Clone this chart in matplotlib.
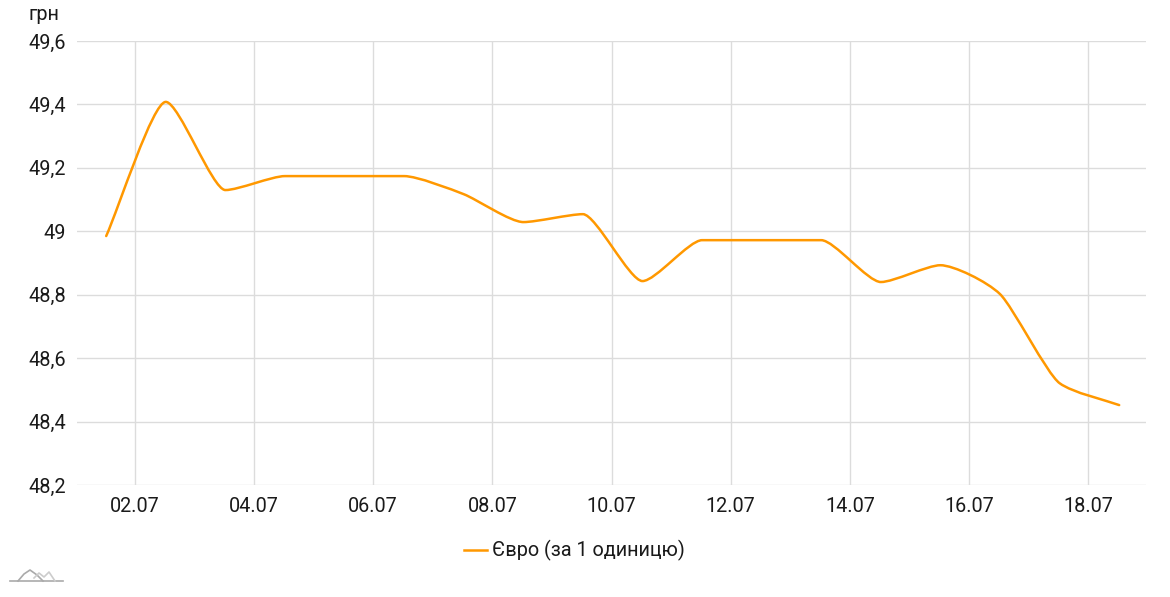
import matplotlib
matplotlib.use("Agg")
import matplotlib.pyplot as plt
import numpy as np
from matplotlib.path import Path
from matplotlib.patches import PathPatch
from matplotlib.lines import Line2D

plt.rcParams['font.family'] = ['Roboto', 'DejaVu Sans']

# data
days = [1, 2, 3, 4, 5, 6, 7, 8, 9, 10, 11, 12, 13, 14, 15, 16, 17, 18]
euro = [48.985, 49.408, 49.13, 49.174, 49.174, 49.174, 49.117, 49.029, 49.054,
        48.843, 48.972, 48.972, 48.972, 48.84, 48.893, 48.802, 48.521, 48.452]
tick_days = [2, 4, 6, 8, 10, 12, 14, 16, 18]
tick_labels = ["02.07", "04.07", "06.07", "08.07", "10.07", "12.07", "14.07", "16.07", "18.07"]
y_ticks = [48.2, 48.4, 48.6, 48.8, 49.0, 49.2, 49.4, 49.6]
y_labels = ["48,2", "48,4", "48,6", "48,8", "49", "49,2", "49,4", "49,6"]
series_name = "Євро (за 1 одиницю)"
unit = "грн"

W, H = 1170, 597
FS = 14.3
TXT = "#1a1a1a"
fig = plt.figure(figsize=(W/100, H/100), dpi=100)
ax = fig.add_axes([77/W, 1-485/H, (1146-77)/W, (485-41)/H])

color = "#FF9800"
xs = np.array(days, dtype=float) + 0.52
ys = np.array(euro, dtype=float)

# monotone tangents with short bezier handles (smooth rendering only)
n = len(xs)
h = np.diff(xs)
s = np.diff(ys) / h
m = np.zeros(n)
for i in range(1, n-1):
    s0, s1 = s[i-1], s[i]
    p = (s0*h[i] + s1*h[i-1]) / (h[i-1] + h[i])
    m[i] = (np.sign(s0) + np.sign(s1)) * min(abs(s0), abs(s1), 0.5*abs(p))
m[0] = s[0]
m[-1] = s[-1]
k = 0.22
verts = [(xs[0], ys[0])]
codes = [Path.MOVETO]
for i in range(n-1):
    d = h[i] * k
    verts += [(xs[i]+d, ys[i]+m[i]*d), (xs[i+1]-d, ys[i+1]-m[i+1]*d), (xs[i+1], ys[i+1])]
    codes += [Path.CURVE4]*3
ax.add_patch(PathPatch(Path(verts, codes), facecolor='none', edgecolor=color, lw=1.8,
                       capstyle='round', joinstyle='round', zorder=3))

ax.set_xlim(1.03, 18.97)
ax.set_ylim(48.2, 49.6)
ax.set_xticks(tick_days)
ax.set_xticklabels(tick_labels)
ax.set_yticks(y_ticks)
ax.set_yticklabels(y_labels)
ax.grid(True, color="#dcdcdc", lw=1)
ax.set_axisbelow(True)
for sp in ax.spines.values():
    sp.set_visible(False)
ax.tick_params(length=0, labelsize=FS, colors=TXT)
ax.tick_params(axis='y', pad=8)
ax.tick_params(axis='x', pad=8.5)

fig.text(29/W, 1-14/H, unit, fontsize=FS, color=TXT, va='center', ha='left')

# legend
leg_y = 1-550/H
fig.add_artist(Line2D([464/W, 487/W], [leg_y, leg_y], color=color, lw=1.8))
fig.text(492/W, leg_y, series_name, fontsize=FS, color=TXT, va='center', ha='left')

# small logo
fig.add_artist(Line2D(np.array([10, 63])/W, 1-np.array([581, 581])/H, color="#aaaaaa", lw=1.2))
fig.add_artist(Line2D(np.array([18, 24, 30, 37, 43])/W, 1-np.array([581, 574, 570, 575, 581])/H, color="#aaaaaa", lw=1.2))
fig.add_artist(Line2D(np.array([34, 39, 44, 49, 55])/W, 1-np.array([578, 573, 577, 572, 581])/H, color="#cccccc", lw=1.2))

fig.savefig("out.png", dpi=100, facecolor="white")
